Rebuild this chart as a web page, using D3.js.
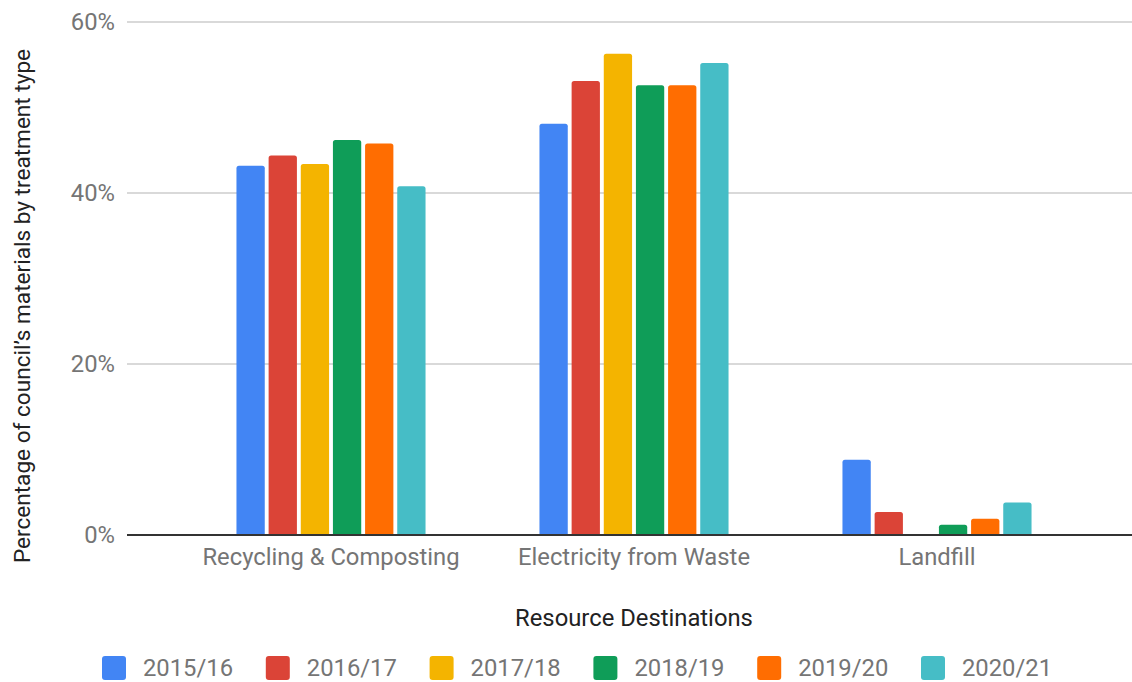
<!DOCTYPE html>
<html>
<head>
<meta charset="utf-8">
<script src="https://cdn.jsdelivr.net/npm/d3@7"></script>
<style>
  body { margin: 0; background: #fff; }
  text { font-family: Roboto, "Noto Sans", sans-serif; }
</style>
</head>
<body>
<svg id="chart" width="1132" height="682"></svg>
<script>
// data
const categories = ["Recycling & Composting", "Electricity from Waste", "Landfill"];
const years = ["2015/16", "2016/17", "2017/18", "2018/19", "2019/20", "2020/21"];
const colors = ["#4285f4", "#db4437", "#f4b400", "#0f9d58", "#ff6d01", "#46bdc6"];
// percent per year, in category order
const v2015 = [43.2, 48.1, 8.8];
const v2016 = [44.4, 53.1, 2.7];
const v2017 = [43.4, 56.3, null];
const v2018 = [46.2, 52.6, 1.2];
const v2019 = [45.8, 52.6, 1.9];
const v2020 = [40.8, 55.2, 3.8];
const yTicks = [0, 20, 40, 60];

const series = [v2015, v2016, v2017, v2018, v2019, v2020];

const svg = d3.select("#chart");

const y = d3.scaleLinear().domain([0, 60]).range([535, 22]);
const x0 = d3.scaleBand().domain(categories).range([179.5, 1088.5])
    .paddingInner(0.376).paddingOuter(0.188);
const x1 = d3.scaleBand().domain(years).range([0, x0.bandwidth()]).paddingInner(0.12);
const color = d3.scaleOrdinal().domain(years).range(colors);

const fs = 23.8;

// gridlines + tick labels
const gl = 127, gr = 1132;
svg.append("g").selectAll("line").data(yTicks.filter(d => d > 0)).join("line")
    .attr("x1", gl).attr("x2", gr)
    .attr("y1", d => y(d)).attr("y2", d => y(d))
    .attr("stroke", "#cccccc").attr("stroke-width", 1.3);

svg.append("g").selectAll("text").data(yTicks).join("text")
    .attr("x", 115).attr("y", d => y(d)).attr("dy", "0.35em")
    .attr("text-anchor", "end")
    .attr("fill", "#757575").attr("font-size", fs)
    .text(d => d + "%");

// bars
const rr = 2.5;
function barPath(x, w, y0, y1) {
  const r = Math.min(rr, (y0 - y1) / 2);
  return `M${x},${y0}V${y1 + r}Q${x},${y1} ${x + r},${y1}H${x + w - r}Q${x + w},${y1} ${x + w},${y1 + r}V${y0}Z`;
}

const rows = [];
categories.forEach((c, ci) => {
  years.forEach((yr, si) => {
    const v = series[si][ci];
    if (v != null) rows.push({ cat: c, year: yr, value: v });
  });
});

svg.append("g").selectAll("path").data(rows).join("path")
    .attr("fill", d => color(d.year))
    .attr("d", d => barPath(x0(d.cat) + x1(d.year), x1.bandwidth(), y(0), y(d.value)));

// baseline
svg.append("line")
    .attr("x1", gl).attr("x2", gr).attr("y1", y(0)).attr("y2", y(0))
    .attr("stroke", "#333333").attr("stroke-width", 2);

// category labels
svg.append("g").selectAll("text").data(categories).join("text")
    .attr("x", d => x0(d) + x0.bandwidth() / 2).attr("y", 557).attr("dy", "0.35em")
    .attr("text-anchor", "middle")
    .attr("fill", "#757575").attr("font-size", fs)
    .text(d => d);

// axis titles
svg.append("text")
    .attr("x", x0.range()[0] + (x0.range()[1] - x0.range()[0]) / 2).attr("y", 618).attr("dy", "0.35em")
    .attr("text-anchor", "middle").attr("fill", "#222222").attr("font-size", fs)
    .text("Resource Destinations");

svg.append("text")
    .attr("transform", "translate(30,306) rotate(-90)")
    .attr("text-anchor", "middle").attr("fill", "#222222").attr("font-size", 22.6)
    .text("Percentage of council\u2019s materials by treatment type");

// legend
const leg = svg.append("g");
const legX = d3.scalePoint().domain(years).range([102, 921]);
const item = leg.selectAll("g").data(years).join("g")
    .attr("transform", d => `translate(${legX(d)},656)`);
item.append("rect").attr("width", 24).attr("height", 24).attr("rx", 3)
    .attr("fill", d => color(d));
item.append("text").attr("x", 41).attr("y", 12).attr("dy", "0.35em")
    .attr("fill", "#757575").attr("font-size", fs)
    .text(d => d);
</script>
</body>
</html>
